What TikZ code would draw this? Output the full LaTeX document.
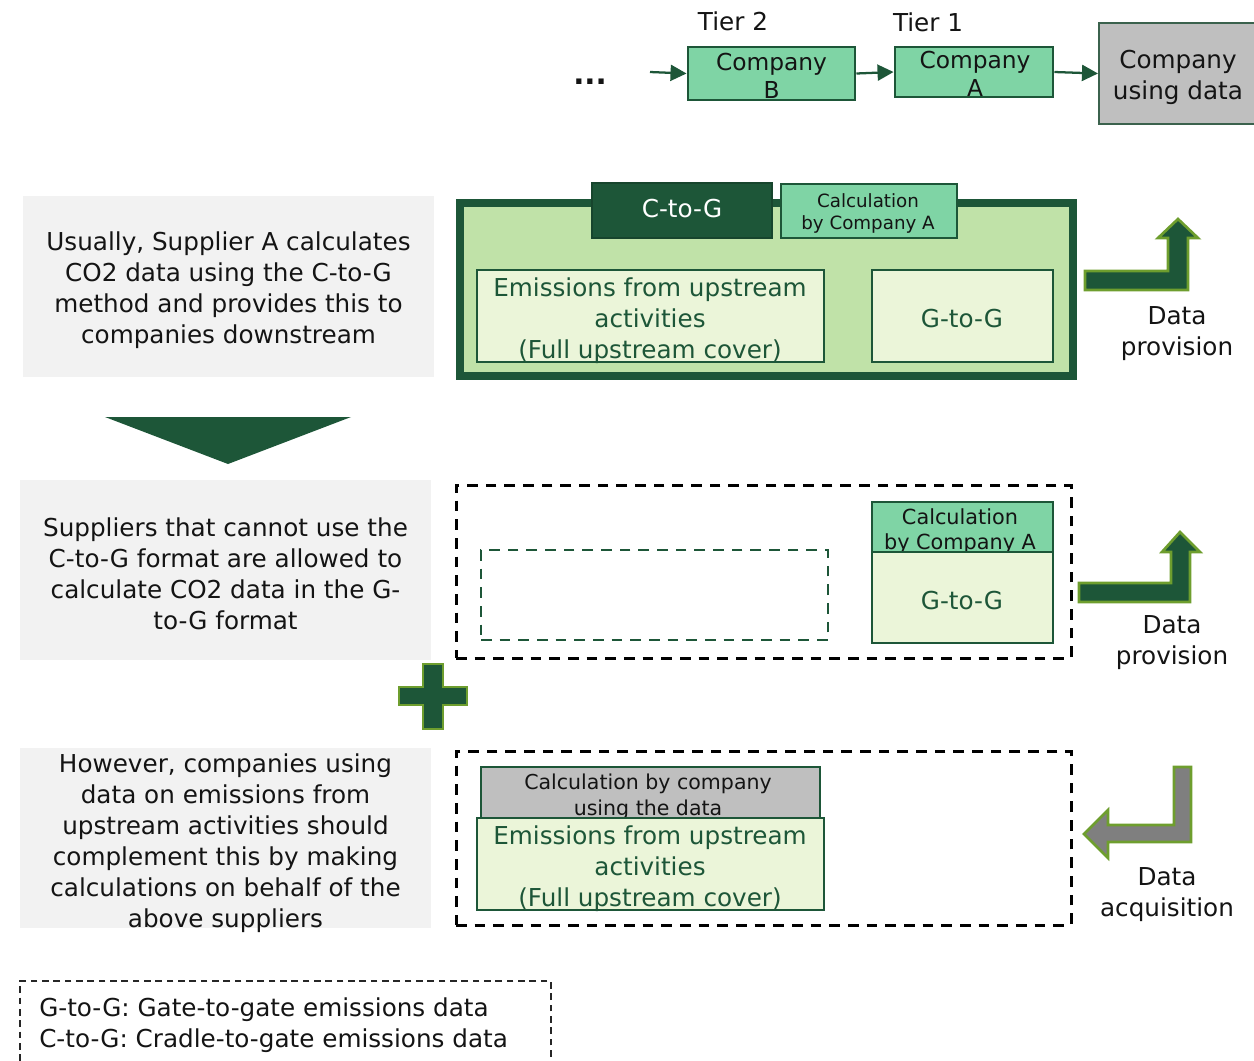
\documentclass[tikz,border=0pt]{standalone}
\usepackage{fontspec}
\setmainfont{DejaVu Sans}
\usetikzlibrary{arrows.meta}
\definecolor{dkgreen}{HTML}{1D5638}
\definecolor{mint}{HTML}{7FD4A5}
\definecolor{framefill}{HTML}{C0E2A8}
\definecolor{paleg}{HTML}{EBF5D9}
\definecolor{olive}{HTML}{6E9E2E}
\definecolor{panelgray}{HTML}{F2F2F2}
\definecolor{midgray}{HTML}{BFBFBF}
\definecolor{arrowgray}{HTML}{7F7F7F}
\definecolor{ink}{HTML}{141414}
\begin{document}
\begin{tikzpicture}[x=0.75pt,y=-0.75pt,
  txt/.style={align=center,inner sep=0pt,text=ink,font=\fontsize{18.5}{23.25}\selectfont},
  gtxt/.style={txt,text=dkgreen},
  cotxt/.style={txt,font=\fontsize{17.5}{21}\selectfont},
  panel/.style={fill=panelgray,draw=none,inner sep=0pt},
  greenbox/.style={draw=dkgreen,line width=2.2pt,inner sep=0pt},
  dashframe/.style={draw=black,line width=2.25pt,dash pattern=on 8pt off 6pt,inner sep=0pt},
  conn/.style={draw=dkgreen,line width=1.7pt,-{Triangle[length=12pt,width=12pt]}},
  bentarrow/.style={fill=dkgreen,draw=olive,line width=2pt,line join=miter},
]
\useasboundingbox (0,0) rectangle (1254,1061);

% ---------- supply chain ----------
\node[txt,anchor=base,font=\bfseries\fontsize{22}{26}\selectfont] (dots) at (590,84) {...};
\coordinate (chainstart) at (650,72);
\node[greenbox,fill=mint,minimum width=125.25pt,minimum height=39.75pt] (boxB) at (771.5,73.5) {};
\node[cotxt] (boxBtxt) at (771.5,75.5) {Company\\B};
\node[greenbox,fill=mint,minimum width=118.5pt,minimum height=37.5pt] (boxA) at (974,72) {};
\node[cotxt] (boxAtxt) at (975,74) {Company\\A};
\node[draw=dkgreen!70!gray,line width=1.8pt,fill=midgray,inner sep=0pt,minimum width=122pt,minimum height=75.75pt] (user) at (1180.5,73.5) {};
\node[txt] (usertxt) at (1178,77) {Company\\using data};
\node[txt] (tier2) at (733,21) {Tier 2};
\node[txt] (tier1) at (928,22) {Tier 1};
\draw[conn] (chainstart) -- (boxB.west);
\draw[conn] (boxB.east) -- (boxA.west);
\draw[conn] (boxA.east) -- (user.west);

% ---------- left explanation panels ----------
\node[panel,minimum width=308.25pt,minimum height=135.75pt] (p1) at (228.5,286.5) {};
\node[txt] (p1txt) at (228.5,290) {Usually, Supplier A calculates\\CO2 data using the C-to-G\\method and provides this to\\companies downstream};
\node[panel,minimum width=308.25pt,minimum height=135pt] (p2) at (225.5,570) {};
\node[txt] (p2txt) at (225.5,574) {Suppliers that cannot use the\\C-to-G format are allowed to\\calculate CO2 data in the G-\\to-G format};
\node[panel,minimum width=308.25pt,minimum height=135pt] (p3) at (225.5,838) {};
\node[txt] (p3txt) at (225.5,843) {However, companies using\\data on emissions from\\upstream activities should\\complement this by making\\calculations on behalf of the\\above suppliers};

% down triangle and plus sign
\fill[dkgreen] (105,417) -- (351,417) -- (228,464) -- cycle;
\draw[bentarrow] (423,664) -- (443,664) -- (443,687) -- (467,687) -- (467,705) -- (443,705)
  -- (443,729) -- (423,729) -- (423,705) -- (399,705) -- (399,687) -- (423,687) -- cycle;

% ---------- C-to-G frame ----------
\node[draw=dkgreen,line width=6pt,fill=framefill,inner sep=0pt,minimum width=459.75pt,minimum height=129.75pt] (ctog) at (766,289) {};
\node[fill=dkgreen,draw=dkgreen!80!black,line width=1pt,inner sep=0pt,minimum width=135pt,minimum height=41.25pt] (ctogtab) at (682,210.5) {};
\node[txt,text=white] (ctogtabtxt) at (682,209) {C-to-G};
\node[greenbox,fill=mint,minimum width=132pt,minimum height=40.5pt] (calc1) at (869,211) {};
\node[txt,font=\fontsize{13.7}{16.5}\selectfont] (calc1txt) at (868,213) {Calculation\\by Company A};
\node[greenbox,fill=paleg,minimum width=260.25pt,minimum height=69pt] (emis1) at (650.5,316) {};
\node[gtxt] (emis1txt) at (650,321) {Emissions from upstream\\activities\\(Full upstream cover)};
\node[greenbox,fill=paleg,minimum width=135.75pt,minimum height=69pt] (gtog1) at (962.5,316) {};
\node[gtxt] (gtog1txt) at (962,319) {G-to-G};

\draw[bentarrow] (1085,271) -- (1168,271) -- (1168,238) -- (1158,238) -- (1178,219)
  -- (1198,238) -- (1188,238) -- (1188,290) -- (1085,290) -- cycle;
\node[txt] (prov1) at (1177,334) {Data\\provision};

% ---------- G-to-G only frame ----------
\node[dashframe,minimum width=461.25pt,minimum height=129.75pt] (frame2) at (763.5,571.5) {};
\node[draw=dkgreen,line width=2pt,dash pattern=on 8pt off 6pt,inner sep=0pt,minimum width=260.25pt,minimum height=67.5pt] (blank2) at (654.5,595) {};
\node[greenbox,fill=mint,minimum width=135.75pt,minimum height=37.5pt] (calc2) at (962.5,527) {};
\node[txt,font=\fontsize{15.6}{18.75}\selectfont] (calc2txt) at (960,531) {Calculation\\by Company A};
\node[greenbox,fill=paleg,minimum width=135.75pt,minimum height=68.25pt] (gtog2) at (962.5,597.5) {};
\node[gtxt] (gtog2txt) at (962,601) {G-to-G};

\draw[bentarrow] (1079,583) -- (1171,583) -- (1171,552) -- (1162,552) -- (1180,532)
  -- (1200,552) -- (1190,552) -- (1190,602) -- (1079,602) -- cycle;
\node[txt] (prov2) at (1172,643) {Data\\provision};

% ---------- complementing frame ----------
\node[dashframe,minimum width=461.25pt,minimum height=130.5pt] (frame3) at (763.5,838) {};
\node[greenbox,fill=midgray,minimum width=254.25pt,minimum height=38.25pt] (calc3) at (650.5,792.5) {};
\node[txt,font=\fontsize{15.4}{19.5}\selectfont] (calc3txt) at (648,796.5) {Calculation by company\\using the data};
\node[greenbox,fill=paleg,minimum width=260.25pt,minimum height=69pt] (emis3) at (650.5,864) {};
\node[gtxt] (emis3txt) at (650,869) {Emissions from upstream\\activities\\(Full upstream cover)};

\draw[bentarrow,fill=arrowgray] (1174,767) -- (1191,767) -- (1191,842) -- (1108,842) -- (1108,858)
  -- (1084,834) -- (1108,810) -- (1108,825) -- (1174,825) -- cycle;
\node[txt] (acq) at (1167,895) {Data\\acquisition};

% ---------- legend ----------
\node[draw=black!85,line width=1.5pt,dash pattern=on 5pt off 3.5pt,inner sep=0pt,minimum width=398.25pt,minimum height=75pt] (legend) at (285.5,1031) {};
\node[txt,align=left,anchor=west] (legendtxt) at (39,1025) {G-to-G: Gate-to-gate emissions data\\C-to-G: Cradle-to-gate emissions data};
\end{tikzpicture}
\end{document}
